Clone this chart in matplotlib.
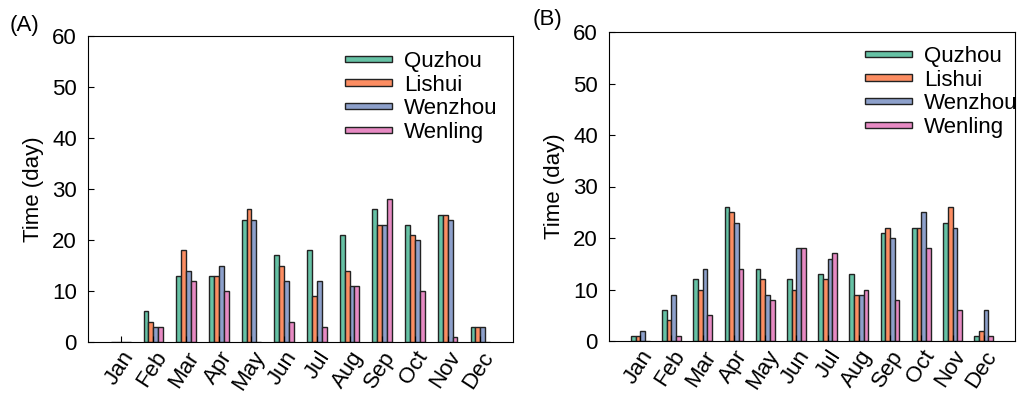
import numpy as np
import matplotlib.pyplot as plt

plt.rcParams['font.family'] = ['Liberation Sans', 'DejaVu Sans']

months = ['Jan', 'Feb', 'Mar', 'Apr', 'May', 'Jun',
          'Jul', 'Aug', 'Sep', 'Oct', 'Nov', 'Dec']
sites = ['Quzhou', 'Lishui', 'Wenzhou', 'Wenling']
colors = ['#66c2a5', '#fc8d62', '#8da0cb', '#e78ac3']

# panel A
quzhou_a = [0, 6, 13, 13, 24, 17, 18, 21, 26, 23, 25, 3]
lishui_a = [0, 4, 18, 13, 26, 15, 9, 14, 23, 21, 25, 3]
wenzhou_a = [0, 3, 14, 15, 24, 12, 12, 11, 23, 20, 24, 3]
wenling_a = [0, 3, 12, 10, 0, 4, 3, 11, 28, 10, 1, 0]

# panel B
quzhou_b = [1, 6, 12, 26, 14, 12, 13, 13, 21, 22, 23, 1]
lishui_b = [1, 4, 10, 25, 12, 10, 12, 9, 22, 22, 26, 2]
wenzhou_b = [2, 9, 14, 23, 9, 18, 16, 9, 20, 25, 22, 6]
wenling_b = [0, 1, 5, 14, 8, 18, 17, 10, 8, 18, 6, 1]

FS = 16
W, H = 1022, 394


def draw_panel(ax, series, leg_xy):
    x = np.arange(len(months))
    w = 0.15
    for i, (vals, c, lab) in enumerate(zip(series, colors, sites)):
        ax.bar(x + (i - 1.5) * w, vals, w, color=c, edgecolor='#222222',
               linewidth=1.0, label=lab)
    ax.set_xlim(-1, 12)
    ax.set_ylim(0, 60)
    ax.set_yticks(range(0, 61, 10))
    ax.set_xticks(x)
    ax.set_xticklabels(months, rotation=57, ha='right', rotation_mode='anchor')
    ax.tick_params(direction='in', labelsize=FS, length=4)
    ax.tick_params(axis='x', pad=4)
    ax.tick_params(axis='y', pad=8)
    ax.set_ylabel('Time (day)', fontsize=FS, labelpad=6)
    ax.legend(loc='upper left',
              bbox_to_anchor=(leg_xy[0] / W, 1 - leg_xy[1] / H),
              bbox_transform=ax.figure.transFigure,
              frameon=False, fontsize=FS, borderpad=0,
              handlelength=2.1, handleheight=0.05, labelspacing=0.12,
              handletextpad=0.55, borderaxespad=0.0)


fig = plt.figure(figsize=(10.22, 3.94), dpi=100)
ax1 = fig.add_axes([88 / W, 1 - 342 / H, 425 / W, 306 / H])
ax2 = fig.add_axes([609 / W, 1 - 341 / H, 406 / W, 309 / H])
draw_panel(ax1, [quzhou_a, lishui_a, wenzhou_a, wenling_a], (345, 51))
draw_panel(ax2, [quzhou_b, lishui_b, wenzhou_b, wenling_b], (865, 46))
fig.text(10 / W, 1 - 25 / H, '(A)', fontsize=FS, va='center', ha='left')
fig.text(533 / W, 1 - 20 / H, '(B)', fontsize=FS, va='center', ha='left')

fig.savefig('out.png', dpi=100)
